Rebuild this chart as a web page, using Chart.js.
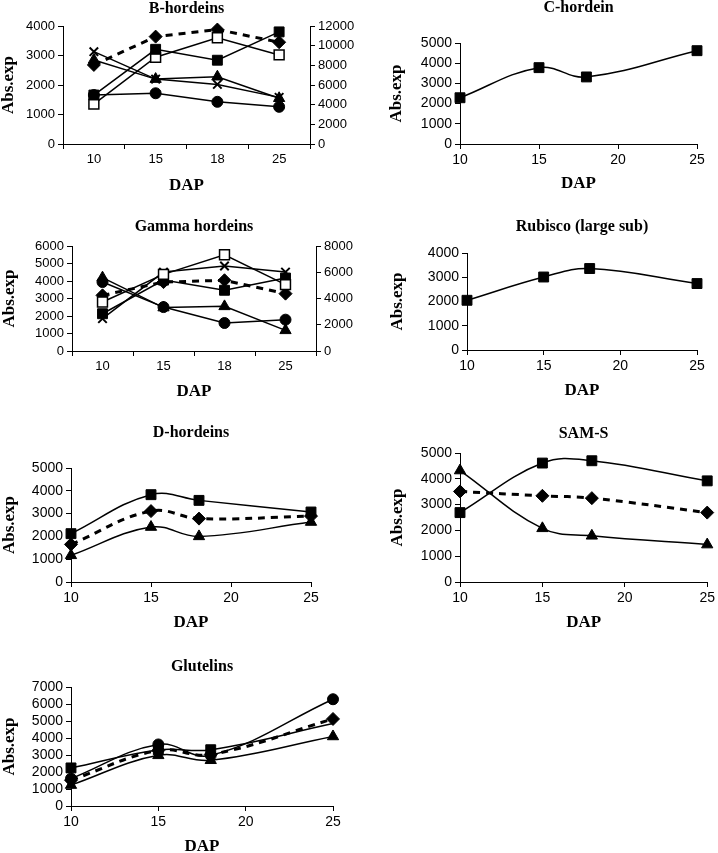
<!DOCTYPE html>
<html><head><meta charset="utf-8">
<script src="https://cdn.jsdelivr.net/npm/chart.js@4.4.1/dist/chart.umd.min.js"></script>
<style>
html,body{margin:0;padding:0;background:#fff;width:718px;height:853px;overflow:hidden;position:relative}
canvas{position:absolute}
</style></head><body>
<canvas id="c1"></canvas><canvas id="c2"></canvas><canvas id="c3"></canvas><canvas id="c4"></canvas>
<canvas id="c5"></canvas><canvas id="c6"></canvas><canvas id="c7"></canvas>
<script>
// ---- categories / x values ----
const dapCats = ['10', '15', '18', '25'];
const dapNum = [10, 15, 18, 25];

// ---- B-hordeins (left axis 0-4000, dashed series on right axis 0-12000) ----
const bFilledSq = [1660, 3210, 2840, 3800];
const bOpenSq = [1350, 2940, 3600, 3020];
const bCross = [3130, 2200, 2020, 1580];
const bTriangle = [2850, 2200, 2280, 1550];
const bCircle = [1660, 1720, 1430, 1260];
const bDiamondRight = [8040, 10920, 11640, 10350];

// ---- C-hordein ----
const cSquare = [2290, 3780, 3320, 4620];

// ---- Gamma hordeins (left 0-6000, dashed series on right axis 0-8000) ----
const gOpenSq = [2800, 4380, 5500, 3790];
const gCross = [1850, 4510, 4860, 4510];
const gFilledSq = [2130, 4050, 3470, 4170];
const gTriangle = [4190, 2480, 2550, 1180];
const gCircle = [3940, 2510, 1600, 1790];
const gDiamondRight = [4240, 5250, 5390, 4370];

// ---- Rubisco (large sub) ----
const rSquare = [2050, 3010, 3360, 2740];

// ---- D-hordeins ----
const dSquare = [2120, 3830, 3580, 3070];
const dDiamond = [1650, 3110, 2780, 2890];
const dTriangle = [1170, 2410, 2000, 2630];

// ---- SAM-S ----
const sSquare = [2690, 4610, 4700, 3920];
const sDiamond = [3510, 3340, 3250, 2690];
const sTriangle = [4320, 2080, 1790, 1450];

// ---- Glutelins ----
const glSquare = [2240, 3300, 3310, 4850];
const glCircle = [1610, 3620, 2980, 6280];
const glDiamond = [1520, 3270, 3030, 5120];
const glTriangle = [1230, 2980, 2690, 4090];

const SANS = '"Liberation Sans", Arial, sans-serif';
const SERIF = '"Liberation Serif", "Times New Roman", serif';
Chart.defaults.color = '#000';
Chart.defaults.animation = false;

const MARKERS = {
  fsq: {pointStyle: 'rect', pointRadius: 7, pointBackgroundColor: '#000', pointBorderColor: '#000', pointBorderWidth: 1},
  osq: {pointStyle: 'rect', pointRadius: 7, pointBackgroundColor: '#fff', pointBorderColor: '#000', pointBorderWidth: 1.5},
  x: {pointStyle: 'crossRot', pointRadius: 6, pointBackgroundColor: '#000', pointBorderColor: '#000', pointBorderWidth: 2},
  tri: {pointStyle: 'triangle', pointRadius: 6.5, pointBackgroundColor: '#000', pointBorderColor: '#000', pointBorderWidth: 1},
  circ: {pointStyle: 'circle', pointRadius: 5.5, pointBackgroundColor: '#000', pointBorderColor: '#000', pointBorderWidth: 1},
  dia: {pointStyle: 'rectRot', pointRadius: 6.5, pointBackgroundColor: '#000', pointBorderColor: '#000', pointBorderWidth: 1}
};

function series(label, values, marker, opts) {
  opts = opts || {};
  const data = opts.linear ? dapNum.map((x, i) => ({x: x, y: values[i]})) : values;
  const d = Object.assign({
    label: label, data: data, borderColor: '#000', borderWidth: 1.5, fill: false,
    tension: opts.tension || 0, clip: false, yAxisID: opts.axis || 'y'
  }, MARKERS[marker]);
  if (opts.dashed) { d.borderDash = [7, 6]; d.borderWidth = 3; }
  if (opts.radius) d.pointRadius = opts.radius;
  return d;
}

const plainNum = v => String(v);

function makeChart(id, box, area, cfg) {
  const cv = document.getElementById(id);
  const w = box.r - box.x, h = box.b - box.y;
  cv.width = w; cv.height = h;
  cv.style.left = box.x + 'px'; cv.style.top = box.y + 'px';
  cv.style.width = w + 'px'; cv.style.height = h + 'px';
  const yW = area.l - box.x;
  const xH = box.b - area.b;
  const rightW = box.r - area.r;
  const fs = cfg.fontSize;
  const gridCfg = {display: true, drawOnChartArea: false, drawTicks: true, tickLength: 5, color: '#000', lineWidth: 1};
  const borderCfg = {display: true, color: '#000', width: 1};
  const axisTitleFont = {family: SERIF, size: 17, weight: 'bold', lineHeight: 1.2};
  const scales = {
    x: cfg.linear ? {
      type: 'linear', min: 10, max: 25,
      ticks: {stepSize: 5, font: {family: SANS, size: fs}, padding: 3, autoSkip: false, callback: plainNum},
      grid: gridCfg, border: borderCfg,
      title: {display: true, text: 'DAP', font: axisTitleFont, padding: 0},
      afterFit: s => { s.height = xH; }
    } : {
      type: 'category', labels: dapCats, offset: true,
      ticks: {font: {family: SANS, size: fs}, padding: 3, autoSkip: false},
      grid: Object.assign({}, gridCfg, {offset: true}), border: borderCfg,
      title: {display: true, text: 'DAP', font: axisTitleFont, padding: 0},
      afterFit: s => { s.height = xH; }
    },
    y: {
      position: 'left', min: 0, max: cfg.yMax,
      ticks: {stepSize: cfg.yStep, font: {family: SANS, size: fs}, padding: 3, autoSkip: false, callback: plainNum},
      grid: gridCfg, border: borderCfg,
      title: {display: true, text: 'Abs.exp', font: axisTitleFont, padding: 0},
      afterFit: s => { s.width = yW; }
    }
  };
  if (cfg.y2Max) {
    scales.y2 = {
      position: 'right', min: 0, max: cfg.y2Max,
      ticks: {stepSize: cfg.y2Step, font: {family: SANS, size: fs}, padding: 3, autoSkip: false, callback: plainNum},
      grid: gridCfg, border: borderCfg,
      afterFit: s => { s.width = rightW; }
    };
  }
  return new Chart(cv, {
    type: 'line',
    data: {labels: cfg.linear ? undefined : dapCats, datasets: cfg.datasets},
    options: {
      responsive: false, animation: false,
      layout: {padding: {left: 0, top: 0, bottom: 0, right: cfg.y2Max ? 0 : rightW}},
      plugins: {
        legend: {display: false}, tooltip: {enabled: false},
        title: {display: true, text: cfg.title, fullSize: false, color: '#000',
          font: {family: SERIF, size: 16, weight: 'bold', lineHeight: 1.125},
          padding: {top: 0, bottom: area.t - box.y - 18}}
      },
      scales: scales
    }
  });
}

// B-hordeins
makeChart('c1', {x: -2, y: 0, r: 358, b: 196}, {l: 63, t: 26, r: 310, b: 144}, {
  title: 'B-hordeins', fontSize: 13, yMax: 4000, yStep: 1000, y2Max: 12000, y2Step: 2000,
  datasets: [
    series('B filled square', bFilledSq, 'fsq'),
    series('B open square', bOpenSq, 'osq'),
    series('B cross', bCross, 'x'),
    series('B triangle', bTriangle, 'tri'),
    series('B circle', bCircle, 'circ'),
    series('B diamond', bDiamondRight, 'dia', {dashed: true, axis: 'y2'})
  ]
});

// C-hordein
makeChart('c2', {x: 386, y: -1, r: 714, b: 194}, {l: 460, t: 43, r: 697, b: 144}, {
  title: 'C-hordein', fontSize: 14, yMax: 5000, yStep: 1000, linear: true,
  datasets: [series('C-hordein', cSquare, 'fsq', {linear: true, tension: 0.4})]
});

// Gamma hordeins
makeChart('c3', {x: -1, y: 218, r: 358, b: 402}, {l: 72, t: 246, r: 316, b: 351}, {
  title: 'Gamma hordeins', fontSize: 13, yMax: 6000, yStep: 1000, y2Max: 8000, y2Step: 2000,
  datasets: [
    series('G open square', gOpenSq, 'osq'),
    series('G cross', gCross, 'x'),
    series('G filled square', gFilledSq, 'fsq'),
    series('G diamond', gDiamondRight, 'dia', {dashed: true, axis: 'y2'}),
    series('G triangle', gTriangle, 'tri'),
    series('G circle', gCircle, 'circ')
  ]
});

// Rubisco
makeChart('c4', {x: 387, y: 218, r: 714, b: 401}, {l: 467, t: 253, r: 697, b: 350}, {
  title: 'Rubisco (large sub)', fontSize: 14, yMax: 4000, yStep: 1000, linear: true,
  datasets: [series('Rubisco', rSquare, 'fsq', {linear: true, tension: 0.4})]
});

// D-hordeins
makeChart('c5', {x: -1, y: 424, r: 340, b: 633}, {l: 71, t: 468, r: 311, b: 582}, {
  title: 'D-hordeins', fontSize: 14, yMax: 5000, yStep: 1000, linear: true,
  datasets: [
    series('D square', dSquare, 'fsq', {linear: true, tension: 0.4}),
    series('D diamond', dDiamond, 'dia', {linear: true, tension: 0.4, dashed: true}),
    series('D triangle', dTriangle, 'tri', {linear: true, tension: 0.4})
  ]
});

// SAM-S
makeChart('c6', {x: 387, y: 425, r: 718, b: 633}, {l: 460, t: 453, r: 709, b: 582}, {
  title: 'SAM-S', fontSize: 14, yMax: 5000, yStep: 1000, linear: true,
  datasets: [
    series('S square', sSquare, 'fsq', {linear: true, tension: 0.4}),
    series('S diamond', sDiamond, 'dia', {linear: true, tension: 0.4, dashed: true}),
    series('S triangle', sTriangle, 'tri', {linear: true, tension: 0.4})
  ]
});

// Glutelins
makeChart('c7', {x: -1, y: 658, r: 350, b: 857}, {l: 71, t: 687, r: 333, b: 806}, {
  title: 'Glutelins', fontSize: 14, yMax: 7000, yStep: 1000, linear: true,
  datasets: [
    series('Gl diamond', glDiamond, 'dia', {linear: true, tension: 0.4, dashed: true}),
    series('Gl circle', glCircle, 'circ', {linear: true, tension: 0.4}),
    series('Gl square', glSquare, 'fsq', {linear: true, tension: 0.4, radius: [7, 7, 7, 0]}),
    series('Gl triangle', glTriangle, 'tri', {linear: true, tension: 0.4})
  ]
});
</script>
</body></html>
